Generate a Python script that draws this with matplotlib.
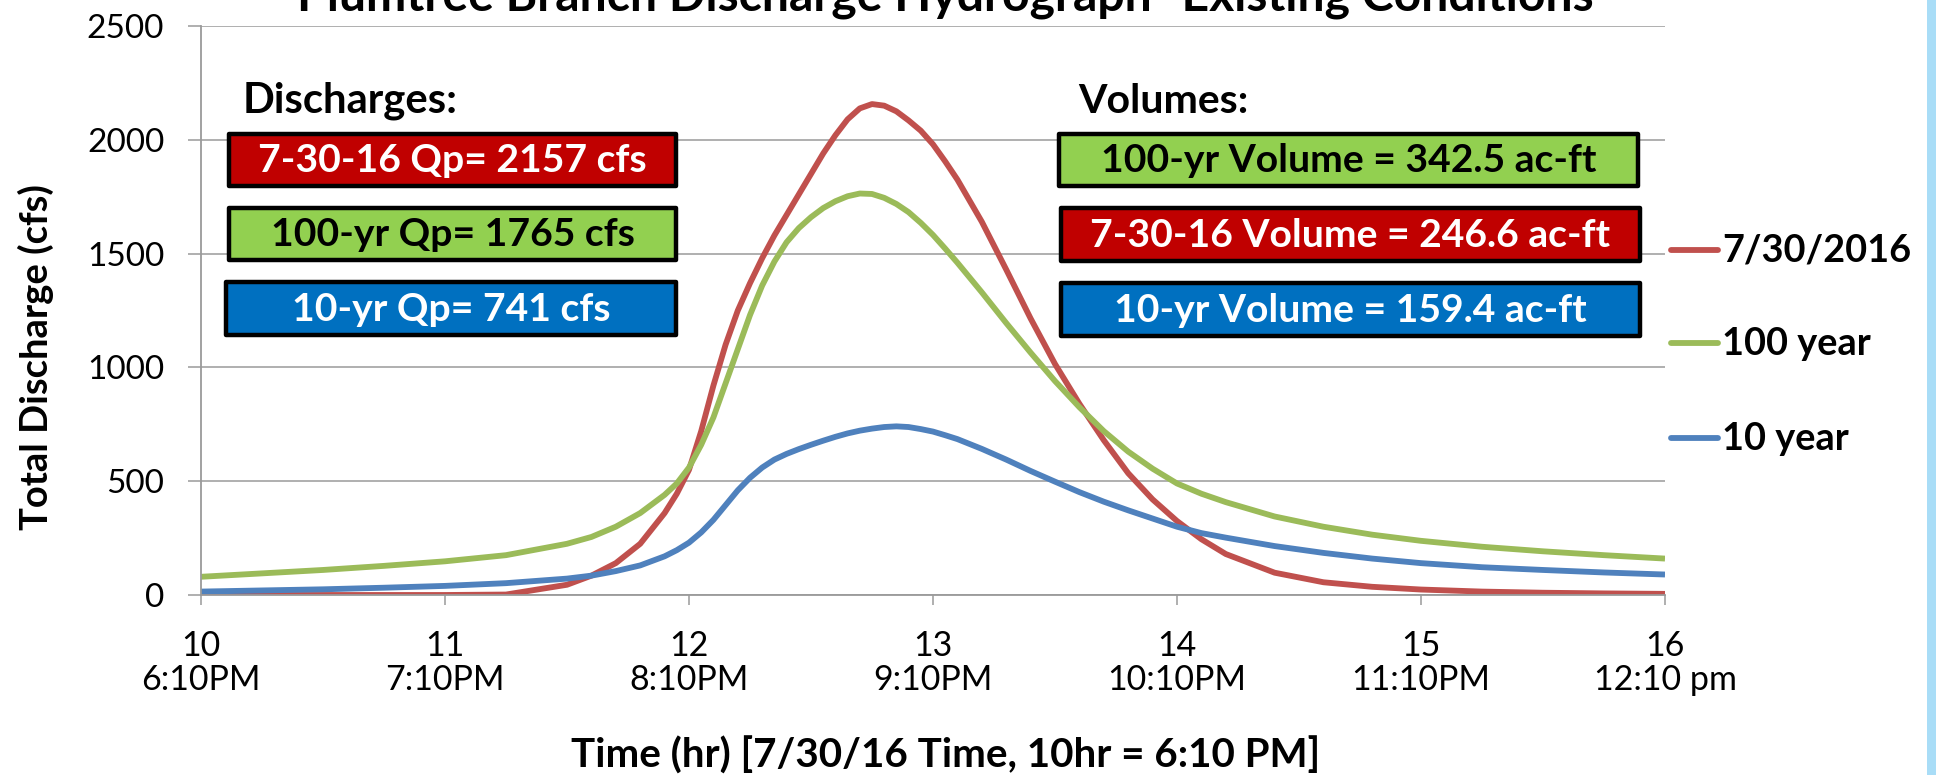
import matplotlib
matplotlib.use("Agg")
import matplotlib.pyplot as plt
from matplotlib.patches import Rectangle
from matplotlib.lines import Line2D
import numpy as np

# ---------------- data ----------------
time_hr = [10, 10.25, 10.5, 10.75, 11, 11.25, 11.5, 11.6, 11.7, 11.8,
           11.9, 11.95, 12.0, 12.05, 12.1, 12.15, 12.2, 12.25, 12.3, 12.35,
           12.4, 12.45, 12.5, 12.55, 12.6, 12.65, 12.7, 12.75, 12.8, 12.85,
           12.9, 12.95, 13.0, 13.05, 13.1, 13.2, 13.3, 13.4, 13.5, 13.6,
           13.7, 13.8, 13.9, 14.0, 14.1, 14.2, 14.4, 14.6, 14.8, 15.0,
           15.25, 15.5, 15.75, 16.0]

q_073016 = [0, 0, 0, 0, 0, 2, 45, 85, 140, 225,
            360, 445, 550, 720, 920, 1100, 1250, 1370, 1480, 1580,
            1670, 1760, 1850, 1940, 2020, 2090, 2138, 2157, 2150, 2125,
            2085, 2040, 1980, 1905, 1825, 1640, 1430, 1215, 1015, 840,
            680, 535, 420, 325, 245, 180, 98, 56, 36, 24,
            15, 10, 7, 5]

q_100yr = [80, 95, 110, 128, 148, 175, 225, 255, 300, 360,
           440, 490, 560, 660, 780, 930, 1080, 1230, 1360, 1465,
           1550, 1612, 1660, 1700, 1730, 1752, 1764, 1762, 1745, 1718,
           1682, 1635, 1582, 1522, 1460, 1330, 1195, 1065, 940, 825,
           720, 630, 555, 490, 445, 408, 345, 300, 265, 238,
           212, 192, 175, 160]

q_10yr = [15, 20, 25, 32, 40, 52, 72, 85, 105, 130,
          170, 197, 230, 275, 330, 395, 460, 515, 560, 595,
          620, 641, 660, 678, 695, 710, 722, 731, 738, 741,
          738, 729, 718, 702, 685, 642, 595, 545, 498, 452,
          410, 372, 336, 300, 272, 252, 215, 185, 160, 140,
          122, 110, 99, 90]

series_labels = ["7/30/2016", "100 year", "10 year"]
series_colors = ["#C0504D", "#9BBB59", "#4F81BD"]

x_ticks = [10, 11, 12, 13, 14, 15, 16]
x_tick_labels = ["10\n6:10PM", "11\n7:10PM", "12\n8:10PM", "13\n9:10PM",
                 "14\n10:10PM", "15\n11:10PM", "16\n12:10 pm"]
y_ticks = [0, 500, 1000, 1500, 2000, 2500]

title = "Plumtree Branch Discharge Hydrograph- Existing Conditions"
x_label = "Time (hr) [7/30/16 Time, 10hr = 6:10 PM]"
y_label = "Total Discharge (cfs)"

discharge_header = "Discharges:"
discharge_texts = ["7-30-16 Qp= 2157 cfs", "100-yr Qp= 1765 cfs", "10-yr Qp= 741 cfs"]
volume_header = "Volumes:"
volume_texts = ["100-yr Volume = 342.5 ac-ft", "7-30-16 Volume = 246.6 ac-ft",
                "10-yr Volume = 159.4 ac-ft"]

# ---------------- figure ----------------
W, H = 1936, 775
DPI = 100
fig = plt.figure(figsize=(W / DPI, H / DPI), dpi=DPI)
fig.patch.set_facecolor("white")

def fx(px):
    return px / W

def fy(py):
    return 1 - py / H

ax_l, ax_r, ax_t, ax_b = 201, 1665, 26, 595
ax = fig.add_axes([fx(ax_l), fy(ax_b), fx(ax_r - ax_l), (ax_b - ax_t) / H])

REG = "Lato"
BOLD = dict(family="Lato", weight="bold")
GRAY = "#9A9A9A"

lines = []
for q, lab, col in zip([q_073016, q_100yr, q_10yr], series_labels, series_colors):
    ln, = ax.plot(time_hr, q, color=col, lw=4.2, label=lab,
                  solid_joinstyle="round", solid_capstyle="butt")
    lines.append(ln)

ax.set_xlim(10, 16)
ax.set_ylim(0, 2500)
ax.set_xticks(x_ticks)
ax.set_xticklabels(x_tick_labels, fontfamily=REG, fontsize=24.5, linespacing=1.07)
ax.set_yticks(y_ticks)
ax.set_yticklabels([str(v) for v in y_ticks], fontfamily=REG, fontsize=24)
ax.tick_params(axis="y", direction="out", length=9.5, width=1.1, color=GRAY, pad=17)
ax.tick_params(axis="x", direction="out", length=7, width=1.1, color=GRAY, pad=18)
ax.grid(axis="y", color=GRAY, lw=1.1)
ax.set_axisbelow(True)
for s in ["top", "right"]:
    ax.spines[s].set_visible(False)
for s in ["left", "bottom"]:
    ax.spines[s].set_color(GRAY)
    ax.spines[s].set_linewidth(1.3)

# title, axis labels (figure coords)
t_title = fig.text(fx(945), fy(10.7), title, ha="center", va="baseline",
                   fontsize=30, **BOLD)
t_xlab = fig.text(fx(946), fy(768), x_label, ha="center", va="baseline",
                  fontsize=28, **BOLD)
t_ylab = fig.text(fx(36), fy(357), y_label, ha="center", va="center",
                  rotation=90, fontsize=28, **BOLD)

# annotation boxes
box_colors = {"red": "#C00000", "green": "#92D050", "blue": "#0070C0"}
d_boxes = [(227, 132, 678, 188, "red", "white"),
           (227, 206, 678, 262, "green", "black"),
           (224, 280, 678, 337, "blue", "white")]
v_boxes = [(1057, 132, 1640, 188, "green", "black"),
           (1059, 206, 1642, 263, "red", "white"),
           (1059, 281, 1642, 338, "blue", "white")]

box_text_objs = []
targets = []
for (x0, y0, x1, y1, c, tc), txt, tw in zip(d_boxes, discharge_texts, [381, 359, 313]):
    fig.patches.append(Rectangle((fx(x0 + 2), fy(y1 - 2)), fx(x1 - x0 - 4), (y1 - y0 - 4) / H,
                                 transform=fig.transFigure, facecolor=box_colors[c],
                                 edgecolor="black", lw=3.2, joinstyle="round"))
    t = fig.text(fx((x0 + x1) / 2), fy((y0 + y1) / 2 + 1), txt, ha="center", va="center",
                 color=tc, fontsize=26, **BOLD)
    box_text_objs.append(t); targets.append(tw)
for (x0, y0, x1, y1, c, tc), txt, tw in zip(v_boxes, volume_texts, [506, 541, 478]):
    fig.patches.append(Rectangle((fx(x0 + 2), fy(y1 - 2)), fx(x1 - x0 - 4), (y1 - y0 - 4) / H,
                                 transform=fig.transFigure, facecolor=box_colors[c],
                                 edgecolor="black", lw=3.2, joinstyle="round"))
    t = fig.text(fx((x0 + x1) / 2), fy((y0 + y1) / 2 + 1), txt, ha="center", va="center",
                 color=tc, fontsize=26, **BOLD)
    box_text_objs.append(t); targets.append(tw)

t_dh = fig.text(fx(243), fy(113), discharge_header, ha="left", va="baseline",
                fontsize=26, **BOLD)
t_vh = fig.text(fx(1078), fy(113), volume_header, ha="left", va="baseline",
                fontsize=26, **BOLD)

# legend (keys styled from the plotted lines)
leg_rows = [250, 343, 438]
leg_texts = []
for ln, lab, yy in zip(lines, series_labels, leg_rows):
    key = Line2D([fx(1671), fx(1718)], [fy(yy), fy(yy)], transform=fig.transFigure,
                 color=ln.get_color(), lw=ln.get_linewidth(), solid_capstyle="round")
    fig.add_artist(key)
    leg_texts.append(fig.text(fx(1722), fy(yy + 1), lab, ha="left", va="center",
                              fontsize=26, **BOLD))

# right-hand light blue strip
fig.patches.append(Rectangle((fx(1927), 0), fx(9), 1, transform=fig.transFigure,
                             facecolor="#A9DDF7", edgecolor="none"))

# ---------------- fit text widths to reference ----------------
fig.canvas.draw()
r = fig.canvas.get_renderer()

def fit(t, width, vertical=False):
    bb = t.get_window_extent(r)
    cur = bb.height if vertical else bb.width
    t.set_fontsize(t.get_fontsize() * width / cur)

fit(t_title, 1297)
fit(t_xlab, 751)
fit(t_ylab, 345, vertical=True)
fit(t_dh, 215)
fit(t_vh, 170)
scales = [tw / t.get_window_extent(r).width for t, tw in zip(box_text_objs, targets)]
s = float(np.median(scales))
for t in box_text_objs:
    t.set_fontsize(t.get_fontsize() * s)
ls = 189 / leg_texts[0].get_window_extent(r).width
for t in leg_texts:
    t.set_fontsize(t.get_fontsize() * ls)

fig.savefig("out.png", dpi=DPI, facecolor="white")
